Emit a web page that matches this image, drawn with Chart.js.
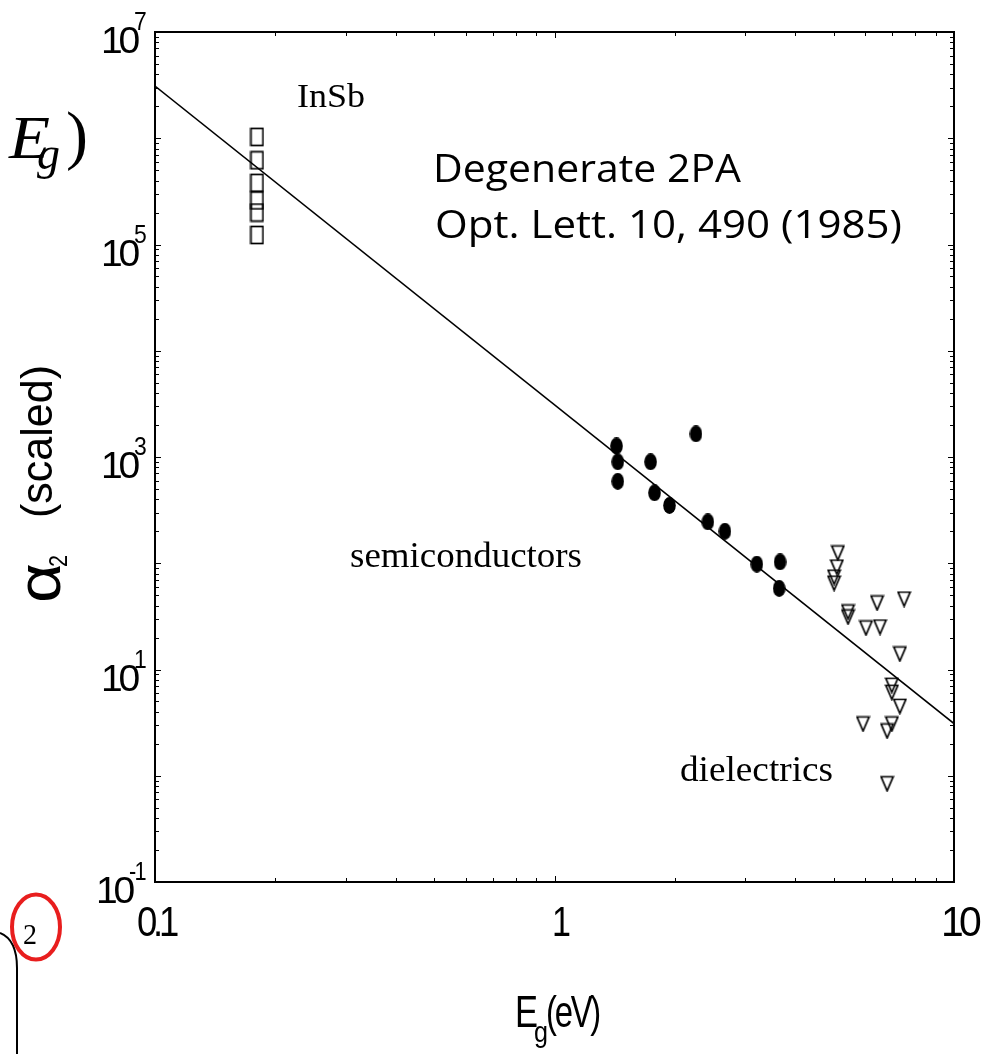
<!DOCTYPE html>
<html>
<head>
<meta charset="utf-8">
<script src="https://cdn.jsdelivr.net/npm/chart.js@4.4.1/dist/chart.umd.min.js"></script>
<style>
  body { margin: 0; background: #fff; }
  #c { display: block; }
</style>
</head>
<body>
<canvas id="c" width="994" height="1054"></canvas>
<script>
// fitted line  alpha2 ~ Eg^-3
var lineX = [0.1, 10];
var lineY = [3.1e6, 3.1];

// InSb (squares)
var insbX = [0.18, 0.18, 0.18, 0.18, 0.18, 0.18];
var insbY = [1.03e6, 6.2e5, 3.8e5, 2.6e5, 2.0e5, 1.23e5];

// semiconductors (filled dots)
var semiX = [1.43, 1.44, 1.44, 1.74, 1.78, 1.94, 2.26, 2.42, 2.67, 3.21, 3.67, 3.65];
var semiY = [1270, 900, 590, 900, 460, 350, 1650, 245, 200, 98, 103, 58];

// dielectrics (open down-triangles)
var dielX = [5.12, 5.09, 5.01, 5.01, 5.43, 5.43, 6.42, 7.50, 6.02, 6.53, 7.32, 6.99, 6.99, 7.32, 5.92, 6.99, 6.80, 6.80];
var dielY = [125, 92, 74, 65, 34.8, 31.2, 42.3, 46, 24.6, 25.1, 14, 7.1, 6.1, 4.5, 3.07, 3.07, 2.64, 0.84];

var xTicks = [0.1, 1, 10];
var xTickLabels = ["0.1", "1", "10"];
var yDecades = [-1, 1, 3, 5, 7];

function pts(xs, ys) {
  return xs.map(function(x, i) { return {x: x, y: ys[i]}; });
}

function marker(w, h, draw) {
  var c = document.createElement('canvas');
  c.width = w; c.height = h;
  var g = c.getContext('2d');
  g.strokeStyle = '#000'; g.fillStyle = '#000'; g.lineWidth = 1.7;
  draw(g, w, h);
  return c;
}
var dotMark = marker(13, 17, function(g, w, h) {
  g.beginPath(); g.ellipse(w / 2, h / 2, 6.3, 8.5, 0, 0, Math.PI * 2); g.fill();
});
var boxMark = marker(15, 20, function(g) {
  g.strokeRect(1.5, 1.5, 12, 17);
});
var triMark = marker(15, 17, function(g) {
  g.beginPath(); g.moveTo(1.5, 1.5); g.lineTo(13.5, 1.5); g.lineTo(7.5, 15.5); g.closePath(); g.stroke();
});

// draw text squeezed/stretched to a given width, optional letter spacing
function fitText(ctx, text, x, y, font, width, spacing) {
  ctx.save();
  ctx.font = font;
  if (spacing) ctx.letterSpacing = spacing + 'px';
  var w = ctx.measureText(text).width;
  if (spacing && ctx.letterSpacing === undefined) w += spacing * text.length;
  ctx.translate(x, y);
  ctx.scale(width ? width / w : 1, 1);
  ctx.textAlign = 'left';
  ctx.textBaseline = 'alphabetic';
  ctx.fillText(text, 0, 0);
  ctx.restore();
}

var sans = '"Liberation Sans", Arial, sans-serif';
var serif = '"Liberation Serif", "Times New Roman", serif';

var decor = {
  id: 'decor',
  beforeDraw: function(chart) {
    var ctx = chart.ctx;
    ctx.save();
    ctx.fillStyle = '#fff';
    ctx.fillRect(0, 0, chart.width, chart.height);
    ctx.restore();
  },
  afterDraw: function(chart) {
    var ctx = chart.ctx, a = chart.chartArea;
    var xs = chart.scales.x, ys = chart.scales.y;
    ctx.save();
    ctx.strokeStyle = '#000';
    ctx.fillStyle = '#000';

    // ticks, inward, on all four sides
    ctx.lineWidth = 1;
    ctx.beginPath();
    for (var d = -1; d < 2; d++) {
      for (var k = 1; k < 10; k++) {
        var px = Math.round(xs.getPixelForValue(k * Math.pow(10, d))) + 0.5;
        var len = k === 1 ? 6 : 4;
        ctx.moveTo(px, a.bottom); ctx.lineTo(px, a.bottom - len);
        ctx.moveTo(px, a.top); ctx.lineTo(px, a.top + len);
      }
    }
    for (var d = -1; d < 7; d++) {
      for (var k = 1; k < 10; k++) {
        var py = Math.round(ys.getPixelForValue(k * Math.pow(10, d))) + 0.5;
        var len = k === 1 ? 6 : 4;
        ctx.moveTo(a.left, py); ctx.lineTo(a.left + len, py);
        ctx.moveTo(a.right, py); ctx.lineTo(a.right - len, py);
      }
    }
    ctx.stroke();

    // frame
    ctx.lineWidth = 2;
    ctx.strokeRect(a.left, a.top, a.right - a.left, a.bottom - a.top);

    // x tick labels
    var xw = [38, 15, 36];
    xTicks.forEach(function(v, i) {
      var px = xs.getPixelForValue(v);
      var off = i === 0 ? 1 : 5;
      fitText(ctx, xTickLabels[i], px + off - xw[i] / 2, a.bottom + 54, '43px ' + sans, xw[i], -5);
    });

    // y tick labels 10^n
    yDecades.forEach(function(e) {
      var py = ys.getPixelForValue(Math.pow(10, e));
      var sup = String(e);
      var sw = e < 0 ? 16 : 11;
      var tenRight = 146 - sw + 1;
      fitText(ctx, '10', tenRight - 35, py + 21, '37px ' + sans, 35, -4);
      fitText(ctx, sup, tenRight - 2, py - 2, '26px ' + sans, sw, -2);
    });

    // axis titles
    fitText(ctx, 'E', 515, 1027, '44px ' + sans, 23);
    fitText(ctx, 'g', 534, 1042, '30px ' + sans, 14);
    fitText(ctx, '(eV)', 546, 1027, '44px ' + sans, 53, -3);

    ctx.save();
    ctx.rotate(-Math.PI / 2);
    fitText(ctx, '\u03b1', -603, 60, '62px ' + sans, 40);
    fitText(ctx, '2', -567, 67, '25px ' + sans, 12);
    fitText(ctx, '(scaled)', -518, 52, '44px ' + sans, 153);
    ctx.restore();

    // annotations
    fitText(ctx, 'InSb', 297, 107, '34px ' + serif, 68);
    fitText(ctx, 'semiconductors', 350, 567, '36px ' + serif, 232);
    fitText(ctx, 'dielectrics', 680, 781, '36px ' + serif, 153);
    fitText(ctx, 'Degenerate 2PA', 433, 182, '39px "Open Sans", Lato, sans-serif', 308);
    fitText(ctx, 'Opt. Lett. 10, 490 (1985)', 435, 238, '39px "Open Sans", Lato, sans-serif', 467);

    // fragments from the neighbouring slide at the left edge
    fitText(ctx, 'E', 9, 158, 'italic 62px ' + serif, 41);
    fitText(ctx, 'g', 37, 169, 'italic 46px ' + serif, 0);
    fitText(ctx, ')', 66, 157, '66px ' + serif, 0);
    fitText(ctx, '2', 23, 944, '29px ' + serif, 14);

    ctx.lineWidth = 2;
    ctx.beginPath();
    ctx.moveTo(0, 933);
    ctx.bezierCurveTo(10, 937, 17, 948, 17, 968);
    ctx.lineTo(17, 1054);
    ctx.stroke();

    ctx.strokeStyle = '#e81e1e';
    ctx.lineWidth = 4;
    ctx.beginPath();
    ctx.ellipse(36, 927, 24, 32.5, 0, 0, Math.PI * 2);
    ctx.stroke();

    ctx.restore();
  }
};

new Chart(document.getElementById('c'), {
  type: 'scatter',
  data: {
    datasets: [
      { data: pts(lineX, lineY), showLine: true, pointRadius: 0, borderColor: '#000', borderWidth: 1.5, fill: false },
      { data: pts(insbX, insbY), pointStyle: boxMark, pointRadius: 8 },
      { data: pts(semiX, semiY), pointStyle: dotMark, pointRadius: 8 },
      { data: pts(dielX, dielY), pointStyle: triMark, pointRadius: 8 }
    ]
  },
  options: {
    responsive: false,
    animation: false,
    devicePixelRatio: 1,
    layout: { padding: { left: 155, top: 32, right: 40, bottom: 172 } },
    plugins: { legend: { display: false }, tooltip: { enabled: false } },
    scales: {
      x: { type: 'logarithmic', min: 0.1, max: 10, display: false },
      y: { type: 'logarithmic', min: 0.1, max: 1e7, display: false }
    }
  },
  plugins: [decor]
});
</script>
</body>
</html>
